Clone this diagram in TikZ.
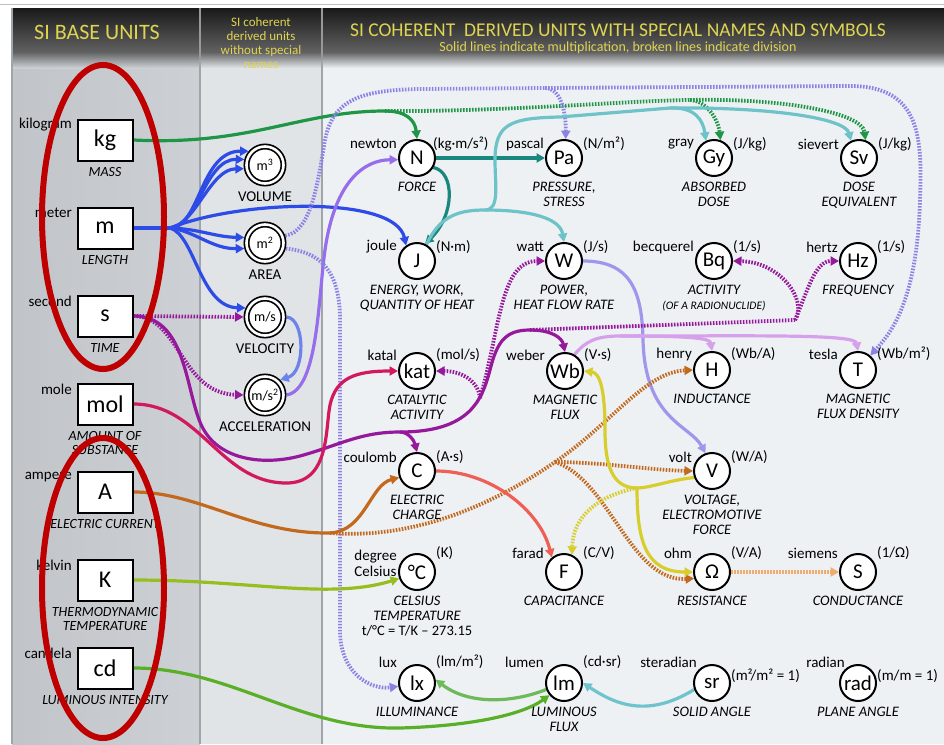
\documentclass[tikz,border=0pt]{standalone}
\usepackage{fontspec}
\setmainfont{Carlito}
\usetikzlibrary{arrows.meta,positioning}
\pgfdeclarelayer{back}
\pgfdeclarelayer{links}
\pgfsetlayers{back,links,main}
\definecolor{headyellow}{RGB}{222,212,82}
\definecolor{leftcol}{RGB}{205,209,213}
\definecolor{midcol}{RGB}{225,228,231}
\definecolor{rightcol}{RGB}{237,241,244}
\definecolor{divider}{RGB}{160,165,170}
\definecolor{ringred}{RGB}{190,0,0}
\definecolor{kggreen}{RGB}{30,150,70}
\definecolor{tealdark}{RGB}{25,135,125}
\definecolor{teallight}{RGB}{110,195,200}
\definecolor{meterblue}{RGB}{45,75,230}
\definecolor{velblue}{RGB}{110,130,235}
\definecolor{accviolet}{RGB}{150,110,235}
\definecolor{wattlav}{RGB}{160,150,235}
\definecolor{arealav}{RGB}{140,130,228}
\definecolor{secpurple}{RGB}{150,25,155}
\definecolor{molred}{RGB}{210,25,95}
\definecolor{ampbrown}{RGB}{195,105,30}
\definecolor{coulred}{RGB}{240,95,85}
\definecolor{voltyellow}{RGB}{215,205,45}
\definecolor{ohmorange}{RGB}{238,172,110}
\definecolor{webviolet}{RGB}{215,160,235}
\definecolor{kelvgreen}{RGB}{150,190,30}
\definecolor{candgreen}{RGB}{90,175,40}
\definecolor{lumgreen}{RGB}{110,185,90}
\definecolor{sterteal}{RGB}{110,195,205}
\newcommand\labfont{\fontsize{15}{16}\selectfont}
\newcommand\descfont{\fontsize{14.5}{15}\selectfont\itshape}

\begin{document}
\begin{tikzpicture}[x=1pt,y=-1pt,
  >={Triangle[length=8.5pt,width=9pt]},
  baseunit/.style={draw,line width=2pt,fill=white,minimum width=55pt,minimum height=41pt,inner sep=0pt,font=\fontsize{24}{24}\selectfont},
  plainunit/.style={circle,draw,line width=1.7pt,double=white,double distance=2.6pt,fill=white,minimum size=37pt,inner sep=0pt,outer sep=3pt,font=\fontsize{14}{14}\selectfont},
  specunit/.style={circle,draw,line width=2pt,fill=white,minimum size=36pt,inner sep=0pt,font=\fontsize{21}{21}\selectfont},
  bname/.style={anchor=east,xshift=-33pt,yshift=15pt,inner sep=0pt,font=\labfont},
  bdesc/.style={anchor=north,yshift=-27pt,inner sep=0pt,align=center,font=\fontsize{14}{14}\selectfont\itshape},
  pdesc/.style={anchor=north,yshift=-27pt,inner sep=0pt,font=\fontsize{15}{15}\selectfont},
  lname/.style={anchor=east,xshift=-20pt,yshift=#1,inner sep=0pt,font=\labfont},
  lname/.default=14pt,
  lunit/.style={anchor=west,xshift=19pt,yshift=#1,inner sep=0pt,font=\labfont},
  lunit/.default=14pt,
  ldesc/.style={anchor=north,yshift=-24pt,inner sep=0pt,align=center,font=\descfont},
  head/.style={text=headyellow,inner sep=0pt},
  link/.style={line width=3.2pt},
  dots/.style={line width=3.8pt,dash pattern=on 1.6pt off 1.4pt},
  ring/.style={draw=ringred,line width=6pt}]
\useasboundingbox (0,0) rectangle (944,744);

\begin{pgfonlayer}{back}
\fill[white] (0,0) rectangle (944,744);
\shade[left color=leftcol!94!black,right color=leftcol] (12,60) rectangle (200,744);
\fill[midcol] (200,60) rectangle (322,744);
\fill[rightcol] (322,60) rectangle (944,744);
\shade[top color=black!90,bottom color=black!62] (12,8) rectangle (944,52);
\shade[top color=black!62,bottom color=leftcol] (12,52) rectangle (200,68);
\shade[top color=black!62,bottom color=midcol] (200,52) rectangle (322,68);
\shade[top color=black!62,bottom color=rightcol] (322,52) rectangle (944,68);
\draw[black!25,line width=1pt] (0,4) -- (944,4);
\draw[divider,line width=1.2pt] (12,8) -- (12,744);
\draw[black!40,line width=1.2pt] (200,8) -- (200,60);
\draw[black!40,line width=1.2pt] (322,8) -- (322,60);
\draw[divider,line width=1.2pt] (200,60) -- (200,744);
\draw[divider,line width=1.2pt] (322,60) -- (322,744);
\end{pgfonlayer}

\node[head,font=\fontsize{22}{22}\selectfont] at (97,32) {SI BASE UNITS};
\node[head,align=center,font=\fontsize{13}{14}\selectfont] at (261,43) {SI coherent\\derived units\\without special\\names};
\node[head,font=\fontsize{19.5}{20}\selectfont] at (618,30) {SI COHERENT\ \ DERIVED UNITS WITH SPECIAL NAMES AND SYMBOLS};
\node[head,font=\fontsize{14}{14}\selectfont] at (618,48) {Solid lines indicate multiplication, broken lines indicate division};

% base units
\node[baseunit] (kg) at (105,140) {kg};
\node[bname] at (kg) {kilogram};
\node[bdesc] at (kg) {MASS};
\node[baseunit] (m) at (105,228) {m};
\node[bname] at (m) {meter};
\node[bdesc] at (m) {LENGTH};
\node[baseunit] (s) at (105,316) {s};
\node[bname] at (s) {second};
\node[bdesc] at (s) {TIME};
\node[baseunit] (mol) at (105,404) {mol};
\node[bname] at (mol) {mole};
\node[bdesc] at (mol) {AMOUNT OF\\SUBSTANCE};
\node[baseunit] (A) at (105,492) {A};
\node[bname] at (A) {ampere};
\node[bdesc] at (A) {ELECTRIC CURRENT};
\node[baseunit] (K) at (105,580) {K};
\node[bname] at (K) {kelvin};
\node[bdesc] at (K) {THERMODYNAMIC\\TEMPERATURE};
\node[baseunit] (cd) at (105,668) {cd};
\node[bname] at (cd) {candela};
\node[bdesc] at (cd) {LUMINOUS INTENSITY};

% coherent units without special names
\node[plainunit] (vol) at (265,165) {m\textsuperscript{3}};
\node[pdesc] at (vol) {VOLUME};
\node[plainunit] (area) at (265,243) {m\textsuperscript{2}};
\node[pdesc] at (area) {AREA};
\node[plainunit] (vel) at (265,317) {m/s};
\node[pdesc] at (vel) {VELOCITY};
\node[plainunit] (acc) at (265,395) {m/s\textsuperscript{2}};
\node[pdesc] at (acc) {ACCELERATION};

% units with special names
\node[specunit] (N) at (417,158) {N};
\node[lname] at (N) {newton};
\node[lunit,xshift=-3pt] at (N) {(kg·m/s²)};
\node[ldesc] at (N) {FORCE};
\node[specunit] (Pa) at (564,158) {Pa};
\node[lname] at (Pa) {pascal};
\node[lunit] at (Pa) {(N/m²)};
\node[ldesc] at (Pa) {PRESSURE,\\STRESS};
\node[specunit] (Gy) at (714,158) {Gy};
\node[lname] at (Gy) {gray};
\node[lunit] at (Gy) {(J/kg)};
\node[ldesc] at (Gy) {ABSORBED\\DOSE};
\node[specunit] (Sv) at (859,158) {Sv};
\node[lname] at (Sv) {sievert};
\node[lunit] at (Sv) {(J/kg)};
\node[ldesc] at (Sv) {DOSE\\EQUIVALENT};

\node[specunit] (J) at (417,261) {J};
\node[lname] at (J) {joule};
\node[lunit] at (J) {(N·m)};
\node[ldesc] at (J) {ENERGY, WORK,\\QUANTITY OF HEAT};
\node[specunit] (W) at (564,261) {W};
\node[lname] at (W) {watt};
\node[lunit] at (W) {(J/s)};
\node[ldesc] at (W) {POWER,\\HEAT FLOW RATE};
\node[specunit] (Bq) at (714,261) {Bq};
\node[lname] at (Bq) {becquerel};
\node[lunit] at (Bq) {(1/s)};
\node[ldesc] at (Bq) {ACTIVITY\\{\fontsize{11.5}{12}\selectfont (OF A RADIONUCLIDE)}};
\node[specunit] (Hz) at (858,261) {Hz};
\node[lname] at (Hz) {hertz};
\node[lunit] at (Hz) {(1/s)};
\node[ldesc] at (Hz) {FREQUENCY};

\node[specunit] (kat) at (417,371) {kat};
\node[lname=16pt] at (kat) {katal};
\node[lunit=16pt] at (kat) {(mol/s)};
\node[ldesc] at (kat) {CATALYTIC\\ACTIVITY};
\node[specunit] (Wb) at (565,371) {Wb};
\node[lname=16pt] at (Wb) {weber};
\node[lunit=16pt] at (Wb) {(V·s)};
\node[ldesc] at (Wb) {MAGNETIC\\FLUX};
\node[specunit] (H) at (712,370) {H};
\node[lname=16pt] at (H) {henry};
\node[lunit=16pt] at (H) {(Wb/A)};
\node[ldesc] at (H) {INDUCTANCE};
\node[specunit] (T) at (858,370) {T};
\node[lname=16pt] at (T) {tesla};
\node[lunit=16pt] at (T) {(Wb/m²)};
\node[ldesc] at (T) {MAGNETIC\\FLUX DENSITY};

\node[specunit] (C) at (417,471) {C};
\node[lname] at (C) {coulomb};
\node[lunit] at (C) {(A·s)};
\node[ldesc] at (C) {ELECTRIC\\CHARGE};
\node[specunit] (V) at (712,471) {V};
\node[lname] at (V) {volt};
\node[lunit] at (V) {(W/A)};
\node[ldesc] at (V) {VOLTAGE,\\ELECTROMOTIVE\\FORCE};

\node[specunit] (degC) at (417,572) {°C};
\node[lname=9pt,align=left] at (degC) {degree\\Celsius};
\node[lunit=19pt] at (degC) {(K)};
\node[ldesc] at (degC) {CELSIUS\\TEMPERATURE\\\upshape t/°C = T/K – 273.15};
\node[specunit] (F) at (564,572) {F};
\node[lname=19pt] at (F) {farad};
\node[lunit=19pt] at (F) {(C/V)};
\node[ldesc] at (F) {CAPACITANCE};
\node[specunit] (Om) at (712,572) {Ω};
\node[lname=19pt] at (Om) {ohm};
\node[lunit=19pt] at (Om) {(V/A)};
\node[ldesc] at (Om) {RESISTANCE};
\node[specunit] (S) at (858,572) {S};
\node[lname=19pt] at (S) {siemens};
\node[lunit=19pt] at (S) {(1/Ω)};
\node[ldesc] at (S) {CONDUCTANCE};

\node[specunit] (lx) at (417,683) {lx};
\node[lname=21pt] at (lx) {lux};
\node[lunit=21pt] at (lx) {(lm/m²)};
\node[ldesc] at (lx) {ILLUMINANCE};
\node[specunit] (lm) at (564,683) {lm};
\node[lname=21pt] at (lm) {lumen};
\node[lunit=21pt] at (lm) {(cd·sr)};
\node[ldesc] at (lm) {LUMINOUS\\FLUX};
\node[specunit] (sr) at (712,683) {sr};
\node[lname=21pt,xshift=5pt] at (sr) {steradian};
\node[lunit=7pt] at (sr) {(m²/m² = 1)};
\node[ldesc] at (sr) {SOLID ANGLE};
\node[specunit] (rad) at (858,683) {rad};
\node[lname=21pt,xshift=7pt] at (rad) {radian};
\node[lunit=7pt] at (rad) {(m/m = 1)};
\node[ldesc] at (rad) {PLANE ANGLE};

\begin{pgfonlayer}{links}
% kilogram
\draw[link,kggreen] (kg.east) .. controls (250,146) and (300,111) .. (385,111) coordinate (kgj);
\draw[link,kggreen,->] (kgj) .. controls (406,111) and (415,120) .. (N.north);
\draw[dots,kggreen] (kgj) .. controls (500,112) and (620,101) .. (690,100) coordinate (kgd);
\draw[dots,kggreen,->] (kgd) .. controls (705,100) and (718,118) .. (Gy.70);
\draw[dots,kggreen,->] (kgd) .. controls (780,98) and (862,112) .. (Sv.70);
% meter
\draw[link,meterblue] (m.east) -- (170,228) coordinate (mj);
\draw[link,meterblue,->] (mj) .. controls (200,228) and (200,151) .. (vol.140);
\draw[link,meterblue,->] (mj) .. controls (198,226) and (205,159) .. (vol.165);
\draw[link,meterblue,->] (mj) .. controls (196,224) and (210,169) .. (vol.190);
\draw[link,meterblue,->] (mj) .. controls (200,229) and (215,237) .. (area.165);
\draw[link,meterblue,->] (mj) .. controls (195,231) and (212,249) .. (area.195);
\draw[link,meterblue,->] (mj) .. controls (195,235) and (200,307) .. (vel.155);
\draw[link,meterblue,->] (mj) .. controls (240,200) and (395,195) .. (J.125);
\draw[link,velblue,->] (vel.east) .. controls (305,318) and (306,372) .. (acc.45);
\draw[link,accviolet,->] (acc.east) .. controls (318,390) and (318,300) .. (325,250) .. controls (335,180) and (365,160) .. (N.185);
% area
\draw[dots,arealav] (area.20) .. controls (312,232) and (318,180) .. (325,140) .. controls (333,100) and (360,90) .. (420,89) -- (545,88) coordinate (pj);
\draw[dots,arealav,->] (pj) .. controls (560,88) and (566,110) .. (Pa.85);
\draw[dots,arealav,->] (pj) -- (850,86) .. controls (922,86) and (922,140) .. (920,200) .. controls (917,300) and (892,332) .. (T.50);
\draw[dots,arealav,->] (area.-15) .. controls (320,252) and (340,270) .. (340,320) -- (340,630) .. controls (340,675) and (372,690) .. (lx.190);
% newton, joule
\draw[link,tealdark,->] (N.east) -- (Pa.west);
\draw[link,tealdark,->] (N.-30) .. controls (455,172) and (455,215) .. (J.65);
\draw[link,teallight] (J.60) .. controls (440,215) and (460,210) .. (485,210) coordinate (tj);
\draw[link,teallight] (tj) .. controls (500,210) and (495,185) .. (495,160) .. controls (495,124) and (510,118) .. (560,117) -- (670,108) coordinate (tk);
\draw[link,teallight,->] (tk) .. controls (695,107) and (703,120) .. (Gy.115);
\draw[link,teallight,->] (tk) .. controls (770,107) and (845,118) .. (Sv.115);
\draw[link,teallight,->] (tj) .. controls (530,210) and (560,218) .. (W.north);
\draw[link,wattlav,->] (W.east) .. controls (630,261) and (642,290) .. (643,340) .. controls (645,420) and (690,425) .. (V.110);
% second
\draw[dots,secpurple,->] (s.east) -- (vel.west);
\draw[dots,secpurple,->] (s.east) .. controls (180,316) and (180,393) .. (acc.west);
\draw[link,secpurple] (s.east) .. controls (185,316) and (185,385) .. (200,422) .. controls (215,460) and (262,466) .. (300,456) .. controls (340,445) and (360,432) .. (400,432) coordinate (spj);
\draw[link,secpurple,->] (spj) .. controls (408,432) and (414,440) .. (C.north);
\draw[link,secpurple] (spj) .. controls (470,432) and (482,400) .. (490,370) .. controls (497,342) and (505,330) .. (530,330) coordinate (spk);
\draw[link,secpurple,->] (spk) .. controls (552,330) and (562,338) .. (Wb.north);
\coordinate (kd) at (480,398);
\draw[dots,secpurple,->] (kd) .. controls (478,380) and (460,371) .. (kat.east);
\draw[dots,secpurple,->] (kd) .. controls (500,330) and (500,261) .. (W.west);
\draw[dots,secpurple] (spk) -- (795,320) coordinate (bj);
\draw[dots,secpurple,->] (bj) .. controls (808,300) and (780,262) .. (Bq.east);
\draw[dots,secpurple,->] (bj) .. controls (808,290) and (815,261) .. (Hz.west);
% mole
\draw[link,molred,->] (mol.east) .. controls (200,404) and (220,482) .. (285,483) .. controls (330,484) and (325,430) .. (330,405) .. controls (336,378) and (355,371) .. (kat.west);
% ampere
\draw[link,ampbrown] (A.east) .. controls (200,492) and (250,534) .. (330,533) coordinate (aj);
\draw[link,ampbrown,->] (aj) .. controls (365,531) and (370,485) .. (C.200);
\draw[dots,ampbrown] (aj) .. controls (420,540) and (500,500) .. (555,462) coordinate (oj);
\draw[dots,ampbrown,->] (oj) .. controls (610,425) and (645,372) .. (H.west);
\draw[dots,ampbrown,->] (oj) .. controls (600,462) and (650,470) .. (V.west);
\draw[dots,ampbrown,->] (oj) .. controls (610,480) and (630,582) .. (Om.200);
\draw[link,coulred,->] (C.east) .. controls (490,471) and (540,510) .. (F.130);
% volt, weber
\draw[link,voltyellow] (V.200) .. controls (670,480) and (650,488) .. (637,488) coordinate (yj);
\draw[link,voltyellow,->] (yj) .. controls (612,488) and (605,465) .. (605,430) .. controls (605,390) and (600,373) .. (Wb.east);
\draw[link,voltyellow,->] (yj) .. controls (637,540) and (645,572) .. (Om.west);
\draw[dots,voltyellow,->] (yj) .. controls (600,495) and (573,515) .. (F.65);
\draw[dots,ohmorange,->] (Om.east) -- (S.west);
\draw[link,webviolet] (Wb.60) .. controls (585,342) and (595,336) .. (620,336) coordinate (wj);
\draw[link,webviolet,->] (wj) .. controls (690,336) and (710,338) .. (H.north);
\draw[link,webviolet,->] (wj) .. controls (760,336) and (855,334) .. (T.north);
% kelvin, candela
\draw[link,kelvgreen,->] (K.east) .. controls (250,580) and (330,600) .. (degC.200);
\draw[link,candgreen,->] (cd.east) .. controls (230,668) and (300,730) .. (400,728) .. controls (470,726) and (522,715) .. (lm.220);
\draw[link,lumgreen,->] (lm.200) .. controls (515,702) and (470,706) .. (lx.10);
\draw[link,sterteal,->] (sr.200) .. controls (645,720) and (612,702) .. (lm.east);
\end{pgfonlayer}

\draw[ring] (103,217) ellipse [x radius=61pt,y radius=152pt];
\draw[ring] (103,588) ellipse [x radius=61pt,y radius=150pt];
\end{tikzpicture}
\end{document}
